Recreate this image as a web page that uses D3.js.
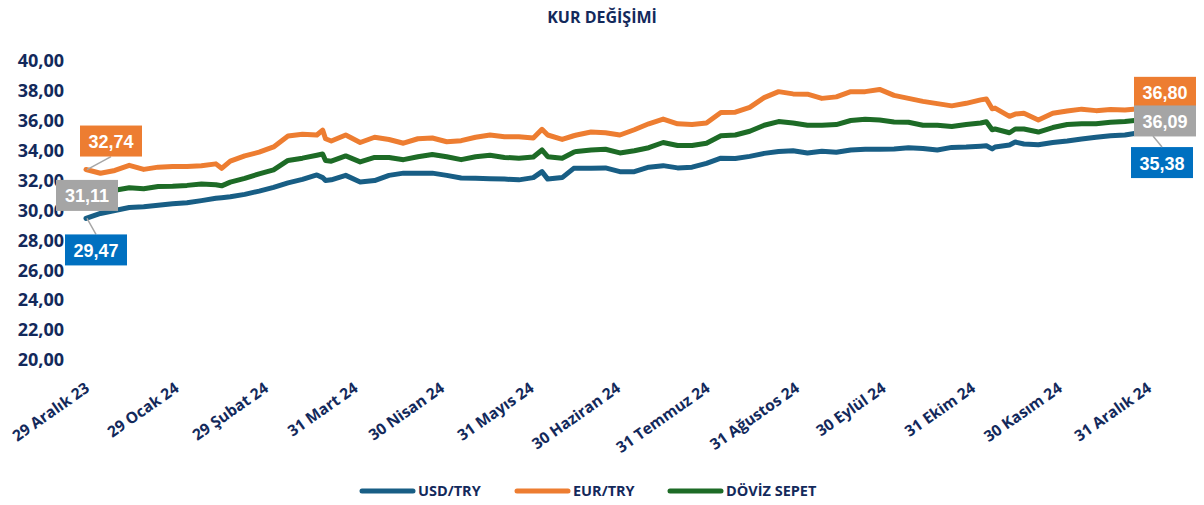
<!DOCTYPE html>
<html>
<head>
<meta charset="utf-8">
<script src="https://cdn.jsdelivr.net/npm/d3@7"></script>
<style>
  body { margin: 0; background: #fff; }
  text { font-family: "Open Sans", sans-serif; font-weight: 700; }
</style>
</head>
<body>
<script>
const DATES = [
  '2023-12-29', '2024-01-03', '2024-01-08', '2024-01-13', '2024-01-18', '2024-01-23', '2024-01-28',
  '2024-02-02', '2024-02-07', '2024-02-12', '2024-02-14', '2024-02-17', '2024-02-22', '2024-02-27',
  '2024-03-03', '2024-03-08', '2024-03-13', '2024-03-18', '2024-03-20', '2024-03-21', '2024-03-23', '2024-03-28',
  '2024-04-02', '2024-04-07', '2024-04-12', '2024-04-17', '2024-04-22', '2024-04-27',
  '2024-05-02', '2024-05-07', '2024-05-12', '2024-05-17', '2024-05-22', '2024-05-27',
  '2024-06-01', '2024-06-04', '2024-06-06', '2024-06-11', '2024-06-15', '2024-06-16', '2024-06-21', '2024-06-26',
  '2024-07-01', '2024-07-06', '2024-07-11', '2024-07-16', '2024-07-21', '2024-07-26', '2024-07-31',
  '2024-08-05', '2024-08-10', '2024-08-15', '2024-08-20', '2024-08-25', '2024-08-30',
  '2024-09-04', '2024-09-09', '2024-09-14', '2024-09-19', '2024-09-24', '2024-09-29',
  '2024-10-04', '2024-10-09', '2024-10-14', '2024-10-19', '2024-10-24', '2024-10-29',
  '2024-11-03', '2024-11-05', '2024-11-07', '2024-11-08', '2024-11-13', '2024-11-15', '2024-11-18', '2024-11-23', '2024-11-28',
  '2024-12-03', '2024-12-08', '2024-12-13', '2024-12-18', '2024-12-23', '2024-12-28', '2024-12-31'
];

const USD = [
  29.47, 29.80, 30.00, 30.20, 30.25, 30.35, 30.45,
  30.52, 30.66, 30.82, 30.86, 30.92, 31.08, 31.30,
  31.55, 31.85, 32.08, 32.38, 32.20, 32.00, 32.05, 32.35,
  31.90, 32.00, 32.35, 32.50, 32.50, 32.50,
  32.35, 32.17, 32.15, 32.12, 32.10, 32.05,
  32.20, 32.60, 32.10, 32.20, 32.82, 32.82, 32.82, 32.85,
  32.60, 32.60, 32.90, 33.00, 32.85, 32.90, 33.15,
  33.50, 33.48, 33.62, 33.82, 33.95, 34.00,
  33.85, 33.97, 33.90, 34.05, 34.10, 34.10,
  34.12, 34.20, 34.15, 34.05, 34.22, 34.24,
  34.30, 34.33, 34.12, 34.25, 34.38, 34.58, 34.45, 34.40, 34.55,
  34.65, 34.78, 34.90, 35.00, 35.05, 35.20, 35.38
];

const EUR = [
  32.74, 32.49, 32.68, 33.02, 32.75, 32.90, 32.95,
  32.95, 33.00, 33.12, 32.82, 33.30, 33.65, 33.90,
  34.25, 34.98, 35.10, 35.05, 35.38, 34.80, 34.65, 35.05,
  34.55, 34.90, 34.75, 34.50, 34.80, 34.85,
  34.60, 34.67, 34.90, 35.05, 34.94, 34.94,
  34.85, 35.43, 35.05, 34.75, 35.00, 35.05, 35.25, 35.20,
  35.05, 35.40, 35.80, 36.12, 35.80, 35.75, 35.85,
  36.55, 36.58, 36.90, 37.55, 37.95, 37.80,
  37.78, 37.50, 37.60, 37.95, 37.95, 38.10,
  37.70, 37.50, 37.30, 37.15, 37.00, 37.17,
  37.40, 37.46, 36.80, 36.85, 36.30, 36.45, 36.50, 36.05, 36.50,
  36.65, 36.78, 36.68, 36.75, 36.72, 36.80, 36.80
];

const SEPET = [
  31.11, 31.20, 31.35, 31.52, 31.45, 31.60, 31.62,
  31.68, 31.77, 31.72, 31.65, 31.90, 32.15, 32.45,
  32.72, 33.35, 33.50, 33.70, 33.78, 33.35, 33.30, 33.65,
  33.25, 33.55, 33.55, 33.40, 33.60, 33.75,
  33.60, 33.40, 33.60, 33.70, 33.55, 33.50,
  33.58, 34.05, 33.60, 33.50, 33.90, 33.95, 34.05, 34.10,
  33.85, 34.00, 34.20, 34.55, 34.35, 34.35, 34.50,
  35.00, 35.05, 35.30, 35.70, 35.95, 35.85,
  35.70, 35.70, 35.75, 36.02, 36.10, 36.05,
  35.92, 35.90, 35.70, 35.70, 35.62, 35.75,
  35.85, 35.94, 35.40, 35.45, 35.20, 35.45, 35.45, 35.25, 35.55,
  35.75, 35.80, 35.80, 35.90, 35.95, 36.05, 36.09
];

const X_TICKS = ['2023-12-29', '2024-01-29', '2024-02-29', '2024-03-31', '2024-04-30', '2024-05-31',
                 '2024-06-30', '2024-07-31', '2024-08-31', '2024-09-30', '2024-10-31', '2024-11-30', '2024-12-31'];
const X_LABELS = ['29 Aralık 23', '29 Ocak 24', '29 Şubat 24', '31 Mart 24', '30 Nisan 24', '31 Mayıs 24',
                  '30 Haziran 24', '31 Temmuz 24', '31 Ağustos 24', '30 Eylül 24', '31 Ekim 24', '30 Kasım 24', '31 Aralık 24'];
const Y_TICKS = [20, 22, 24, 26, 28, 30, 32, 34, 36, 38, 40];

const SERIES = [
  { name: 'USD/TRY', values: USD, color: '#185e85', box: '#0070c0' },
  { name: 'EUR/TRY', values: EUR, color: '#ed7d31', box: '#ed7d31' },
  { name: 'DÖVİZ SEPET', values: SEPET, color: '#1d6b26', box: '#a5a5a5' }
];

const NAVY = '#13295b';
const W = 1204, H = 505;

const parse = d3.timeParse('%Y-%m-%d');
const locale = d3.formatLocale({ decimal: ',', thousands: '.', grouping: [3], currency: ['', ''] });
const fmt = locale.format('.2f');

const svg = d3.select('body').append('svg')
  .attr('width', W)
  .attr('height', H);

const x = d3.scaleTime()
  .domain([parse(DATES[0]), parse(DATES[DATES.length - 1])])
  .range([86, 1148]);

const y = d3.scaleLinear()
  .domain([20, 40])
  .range([360, 61]);

svg.append('text')
  .attr('x', 602).attr('y', 23)
  .attr('text-anchor', 'middle')
  .attr('fill', NAVY)
  .style('font-size', '16px')
  .text('KUR DEĞİŞİMİ');

// y axis labels
const yAxis = svg.append('g')
  .attr('transform', 'translate(64,0)')
  .call(d3.axisLeft(y).tickValues(Y_TICKS).tickFormat(fmt).tickSize(0).tickPadding(0));
yAxis.select('.domain').remove();
yAxis.selectAll('text')
  .attr('fill', NAVY)
  .style('font-size', '18px')
  .style('font-family', '"Open Sans", sans-serif');

// x axis labels
const xAxis = svg.append('g')
  .attr('transform', 'translate(0,362)')
  .call(d3.axisBottom(x).tickValues(X_TICKS.map(parse))
    .tickFormat((d, i) => X_LABELS[i]).tickSize(0).tickPadding(0));
xAxis.select('.domain').remove();
xAxis.selectAll('text')
  .attr('fill', NAVY)
  .style('font-size', '15.5px')
  .style('font-family', '"Open Sans", sans-serif')
  .attr('text-anchor', 'end')
  .attr('dy', '0.35em')
  .attr('y', 0)
  .attr('transform', 'translate(1,24) rotate(-35)');

const line = d3.line()
  .x((d, i) => x(parse(DATES[i])))
  .y(d => y(d));

svg.append('g').selectAll('path')
  .data([SERIES[0], SERIES[2], SERIES[1]])
  .join('path')
  .attr('d', s => line(s.values))
  .attr('fill', 'none')
  .attr('stroke', s => s.color)
  .attr('stroke-width', 5)
  .attr('stroke-linejoin', 'round')
  .attr('stroke-linecap', 'round');

// value boxes: [series index, point index, box dx, box dy, leader]
const last = DATES.length - 1;
const BOXES = [
  [1, 0, -6, -44, true],
  [2, 0, -30, -14, false],
  [0, 0, -21, 16, true],
  [1, last, -14, -32, false],
  [2, last, -14, -14, false],
  [0, last, -17, 17, false]
];

const boxG = svg.append('g');
BOXES.forEach(([si, pi, dx, dy, leader]) => {
  const s = SERIES[si];
  const px = x(parse(DATES[pi]));
  const py = y(s.values[pi]);
  const bx = px + dx, by = py + dy;
  if (leader) {
    const ly = dy < 0 ? by + 31 : by;
    boxG.append('line')
      .attr('x1', px + 1).attr('y1', py)
      .attr('x2', bx + 31).attr('y2', ly)
      .attr('stroke', '#a6a6a6').attr('stroke-width', 1.5);
  }
  boxG.append('rect')
    .attr('x', bx).attr('y', by)
    .attr('width', 62).attr('height', 31)
    .attr('fill', s.box);
  boxG.append('text')
    .attr('x', bx + 31).attr('y', by + 16)
    .attr('dy', '0.36em')
    .attr('text-anchor', 'middle')
    .attr('fill', '#fff')
    .style('font-family', '"Liberation Sans", Arial, sans-serif')
    .style('font-size', '18px')
    .text(fmt(s.values[pi]));
});
// leader between the two right-hand boxes
{
  const px = x(parse(DATES[last]));
  const py = y(USD[last]);
  boxG.append('line')
    .attr('x1', px + 5).attr('y1', py + 6)
    .attr('x2', px + 14).attr('y2', py + 17)
    .attr('stroke', '#a6a6a6').attr('stroke-width', 1.5);
}

// legend
const LEGEND_X = [360, 515, 668];
const legend = svg.append('g').attr('transform', 'translate(0,491)');
SERIES.forEach((s, i) => {
  const g = legend.append('g').attr('transform', `translate(${LEGEND_X[i]},0)`);
  g.append('line')
    .attr('x1', 2).attr('x2', 53)
    .attr('stroke', s.color).attr('stroke-width', 5)
    .attr('stroke-linecap', 'round');
  g.append('text')
    .attr('x', 58).attr('dy', '0.35em')
    .attr('fill', NAVY)
    .style('font-size', '14.5px')
    .text(s.name);
});
</script>
</body>
</html>
